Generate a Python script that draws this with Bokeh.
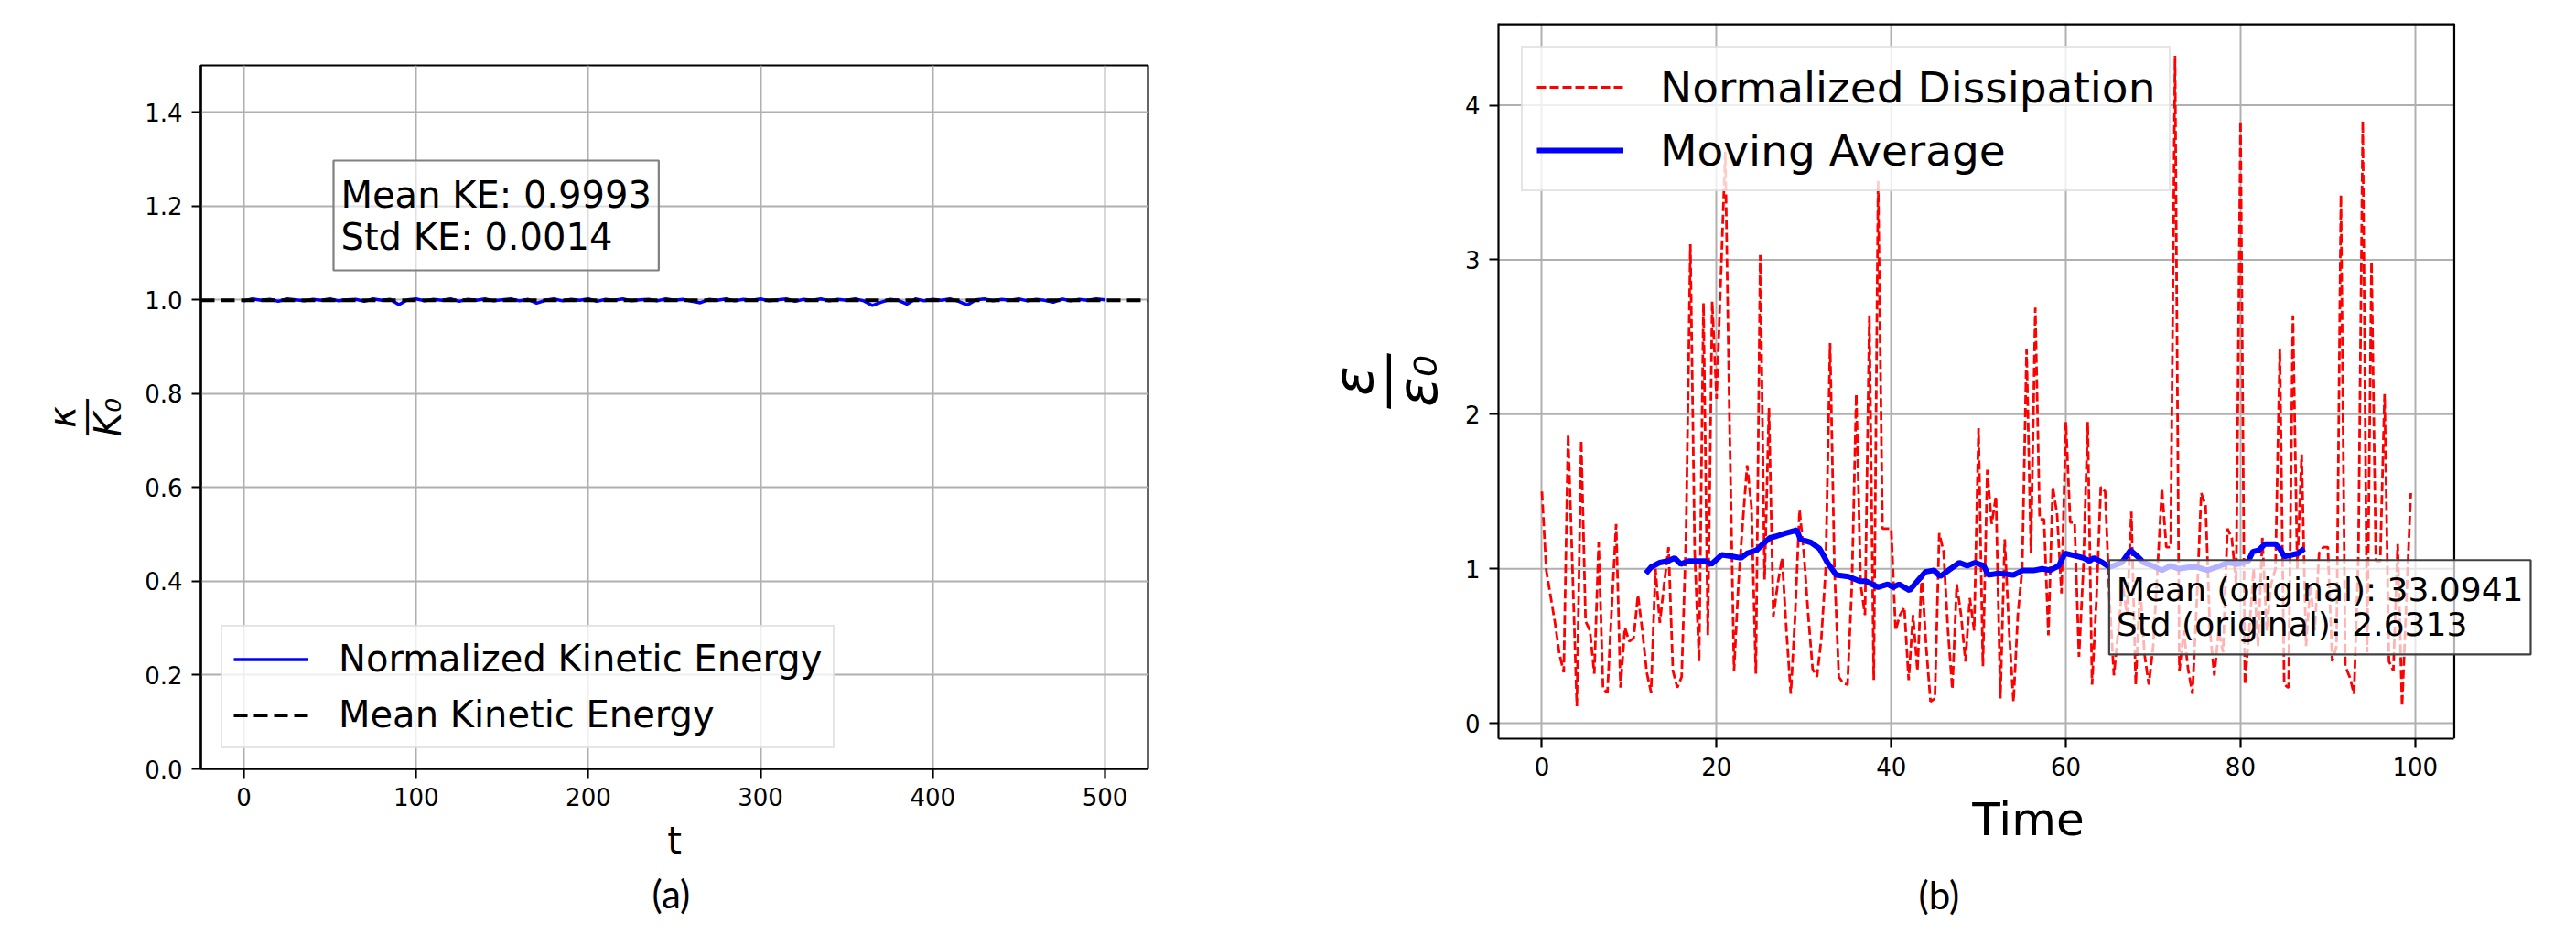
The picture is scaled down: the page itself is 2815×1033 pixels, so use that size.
import numpy as np
from jinja2 import Template
from bokeh.plotting import figure
from bokeh.models import (Range1d, FixedTicker, PrintfTickFormatter, Label, Legend,
                          LegendItem, Title)
from bokeh.embed import file_html
from bokeh.resources import INLINE

# ---------------- data: panel (a) ----------------
ke_t = list(range(0, 501, 5))
ke_vals = [
    0.998, 1.002, 0.999, 1.001, 0.997, 1.002, 1.000, 0.998, 1.001, 0.999,
    1.002, 0.998, 1.000, 1.001, 0.997, 1.002, 0.999, 1.001, 0.990, 1.000,
    1.002, 0.998, 1.001, 0.999, 1.002, 0.997, 1.001, 0.999, 1.002, 0.998,
    1.000, 1.002, 0.998, 1.001, 0.993, 0.999, 1.002, 0.998, 1.001, 0.999,
    1.002, 0.997, 1.001, 0.999, 1.002, 0.998, 1.000, 1.001, 0.998, 1.002,
    0.999, 1.001, 0.997, 0.994, 1.001, 0.999, 1.002, 0.998, 1.001, 0.999,
    1.002, 0.998, 1.000, 1.002, 0.997, 1.001, 0.999, 1.002, 0.998, 1.001,
    0.999, 1.002, 0.998, 0.988, 0.995, 1.001, 0.999, 0.991, 1.002, 0.998,
    1.001, 0.999, 1.002, 0.997, 0.989, 1.000, 1.002, 0.998, 1.001, 0.999,
    1.002, 0.998, 1.001, 0.999, 0.995, 1.002, 0.998, 1.001, 0.999, 1.002,
    1.000]
ke_mean = 0.9993
ke_text = "Mean KE: 0.9993\nStd KE: 0.0014"
a_xticks = [0, 100, 200, 300, 400, 500]
a_yticks = [0.0, 0.2, 0.4, 0.6, 0.8, 1.0, 1.2, 1.4]
A_XLIM = (-25, 525)
A_YLIM = (0.0, 1.5)

# ---------------- data: panel (b) ----------------
diss_t = np.arange(0, 100, 0.5)
diss_vals = [
    1.50, 0.99, 0.82, 0.65, 0.45, 0.33, 1.87, 1.00, 0.11, 1.83,
    0.66, 0.60, 0.32, 1.17, 0.22, 0.20, 0.75, 1.29, 0.23, 0.62,
    0.53, 0.55, 0.83, 0.60, 0.33, 0.20, 1.00, 0.65, 0.90, 1.14,
    0.34, 0.23, 0.30, 1.20, 3.10, 1.10, 0.40, 2.72, 0.57, 2.73,
    2.10, 2.90, 3.70, 1.90, 0.34, 0.90, 1.30, 1.67, 1.40, 0.32,
    3.03, 0.93, 2.04, 0.69, 0.90, 1.07, 0.60, 0.19, 0.70, 1.38,
    1.10, 0.70, 0.35, 0.30, 0.55, 1.00, 2.46, 1.00, 0.30, 0.26,
    0.25, 0.90, 2.13, 0.90, 0.70, 2.64, 0.28, 3.51, 1.26, 1.26,
    1.26, 0.60, 0.70, 0.75, 0.28, 0.70, 0.34, 0.96, 0.50, 0.14,
    0.16, 1.23, 1.11, 0.60, 0.22, 0.90, 0.70, 0.40, 0.81, 0.60,
    1.91, 0.37, 1.64, 1.29, 1.47, 0.16, 1.19, 0.60, 0.14, 0.70,
    1.00, 2.42, 1.10, 2.69, 1.32, 1.32, 0.57, 1.53, 1.35, 0.84,
    1.95, 1.30, 1.30, 0.43, 1.00, 1.95, 0.25, 0.80, 1.53, 1.50,
    0.80, 0.31, 0.60, 0.90, 0.70, 1.37, 0.25, 0.90, 0.45, 0.25,
    0.50, 1.00, 1.52, 1.14, 1.14, 4.32, 0.34, 0.60, 0.35, 0.19,
    0.80, 1.49, 1.41, 0.60, 0.31, 0.60, 0.46, 1.26, 1.20, 0.90,
    3.90, 0.25, 0.60, 1.00, 0.50, 1.20, 0.60, 0.90, 1.00, 2.42,
    0.25, 0.23, 2.64, 1.00, 1.74, 0.50, 0.90, 0.60, 1.10, 1.14,
    1.14, 0.40, 0.50, 3.42, 0.37, 0.30, 0.19, 1.10, 3.90, 0.46,
    2.99, 1.05, 1.05, 2.13, 0.40, 0.34, 1.16, 0.11, 0.80, 1.49]
ma_t = [11.9, 12.5, 13.5, 14.4, 15.2, 15.9, 16.8, 18.7, 19.4, 20.6,
        21.8, 22.8, 23.5, 24.6, 25.3, 26.1, 26.8, 27.9, 29.2, 29.6,
        30.8, 31.8, 32.7, 33.7, 35.1, 36.4, 37.1, 38.5, 39.6, 40.2,
        40.9, 42.1, 43.0, 43.9, 44.9, 45.6, 46.8, 47.8, 48.7, 49.6,
        50.6, 51.1, 52.3, 54.0, 55.1, 56.4, 57.3, 58.2, 59.2, 59.9,
        61.3, 62.0, 62.7, 63.2, 64.2, 65.0, 66.4, 67.4, 68.2, 68.9,
        69.9, 71.0, 72.0, 72.9, 74.1, 75.1, 76.2, 77.2, 78.6, 79.7,
        80.9, 81.4, 82.1, 82.8, 84.0, 84.5, 85.0, 85.9, 86.6, 87.3]
ma_vals = [0.97, 1.01, 1.04, 1.05, 1.07, 1.03, 1.05, 1.05, 1.03, 1.09,
           1.08, 1.07, 1.10, 1.12, 1.16, 1.20, 1.21, 1.23, 1.25, 1.19,
           1.17, 1.13, 1.04, 0.96, 0.95, 0.92, 0.92, 0.88, 0.90, 0.88,
           0.90, 0.86, 0.92, 0.98, 0.99, 0.95, 1.00, 1.04, 1.02, 1.04,
           1.02, 0.96, 0.97, 0.96, 0.99, 0.99, 1.00, 0.99, 1.02, 1.10,
           1.08, 1.07, 1.05, 1.07, 1.04, 1.01, 1.04, 1.12, 1.08, 1.04,
           1.02, 0.99, 1.02, 1.00, 1.01, 1.01, 0.99, 1.01, 1.04, 1.03,
           1.05, 1.11, 1.12, 1.16, 1.16, 1.13, 1.08, 1.09, 1.10, 1.13]
diss_text = "Mean (original): 33.0941\nStd (original): 2.6313"
b_xticks = [0, 20, 40, 60, 80, 100]
b_yticks = [0, 1, 2, 3, 4]
B_XLIM = (-4.975, 104.475)
B_YLIM = (-0.10, 4.53)

FONT = "DejaVu Sans"
CAP_FONT = "Lato"
TICK_SIZE = "26px"


def style(p, xt, yt):
    p.xaxis.ticker = FixedTicker(ticks=xt)
    p.yaxis.ticker = FixedTicker(ticks=yt)
    for ax in (p.xaxis[0], p.yaxis[0]):
        ax.major_label_text_font = FONT
        ax.major_label_text_font_size = TICK_SIZE
        ax.major_label_text_color = "black"
        ax.major_tick_out = 10
        ax.major_tick_in = 0
        ax.minor_tick_out = 0
        ax.minor_tick_in = 0
        ax.major_tick_line_width = 2.2
        ax.major_tick_line_color = "black"
        ax.axis_line_width = 2.2
        ax.axis_line_color = "black"
        ax.major_label_standoff = 10
        ax.axis_label_text_font = FONT
        ax.axis_label_text_font_style = "normal"
        ax.axis_label_text_color = "black"
    p.grid.grid_line_color = "#b0b0b0"
    p.grid.grid_line_width = 2
    p.outline_line_color = "black"
    p.outline_line_width = 2.2
    p.outline_line_alpha = 1.0
    p.background_fill_color = "white"
    p.border_fill_color = "white"


# ---------------- panel (a) ----------------
W_A, H_ALL = 1440, 1025
FA_L, FA_T, FA_W, FA_H = 219, 71, 1035, 769
pa = figure(width=W_A, height=H_ALL, output_backend="svg", toolbar_location=None,
            x_range=Range1d(*A_XLIM), y_range=Range1d(*A_YLIM),
            min_border_left=FA_L, min_border_top=FA_T,
            min_border_right=W_A - FA_L - FA_W, min_border_bottom=H_ALL - FA_T - FA_H)
style(pa, a_xticks, a_yticks)
pa.yaxis.formatter = PrintfTickFormatter(format="%.1f")
pa.xaxis.axis_label = "t"
pa.xaxis.axis_label_text_font_size = "40px"
pa.xaxis.axis_label_standoff = 12
pa.yaxis.axis_label = "κ\n―\nK₀"
pa.yaxis.axis_label_text_font_size = "40px"
pa.yaxis.axis_label_text_font_style = "italic"
pa.yaxis.axis_label_text_line_height = 0.55
pa.yaxis.axis_label_standoff = 14


def ax_a(px):  # page x -> data x (panel a)
    return A_XLIM[0] + (px - FA_L) / FA_W * (A_XLIM[1] - A_XLIM[0])


def ay_a(py):
    return A_YLIM[1] - (py - FA_T) / FA_H * (A_YLIM[1] - A_YLIM[0])


r_ke = pa.line(ke_t, ke_vals, line_color="blue", line_width=3.5)
r_mean = pa.line(list(A_XLIM), [ke_mean, ke_mean], line_color="black",
                 line_width=4, line_dash="15 7")

leg_a = Legend(items=[LegendItem(label="Normalized Kinetic Energy", renderers=[r_ke]),
                      LegendItem(label="Mean Kinetic Energy", renderers=[r_mean])],
               location="bottom_left", margin=22, padding=12, spacing=15,
               glyph_width=82, glyph_height=45, label_standoff=33,
               label_text_font=FONT, label_text_font_size="40px", label_text_color="black",
               border_line_color="#cccccc", border_line_width=2,
               background_fill_color="white", background_fill_alpha=0.8)
pa.add_layout(leg_a)

pa.add_layout(Label(x=ax_a(364), y=ay_a(175), text=ke_text, text_font=FONT,
                    text_font_size="40px", text_color="black", text_line_height=1.0,
                    text_align="left", text_baseline="top",
                    background_fill_color="white", background_fill_alpha=0.6,
                    border_line_color="#808080", border_line_width=2.2, padding=(8, 14)))

pa.add_layout(Title(text="(a)", align="left", offset=493, standoff=10,
                    text_font=CAP_FONT, text_font_size="42px", text_font_style="normal",
                    text_color="black"), "below")

# ---------------- panel (b) ----------------
W_B = 1370
FB_L, FB_T, FB_W, FB_H = 182, 25, 1058, 789
EXT_PX = 115  # extra frame room right of the axes box (for the stats box)
XB_END = B_XLIM[1] + EXT_PX * (B_XLIM[1] - B_XLIM[0]) / FB_W
pb = figure(width=W_B, height=H_ALL, output_backend="svg", toolbar_location=None,
            x_range=Range1d(B_XLIM[0], XB_END), y_range=Range1d(*B_YLIM),
            min_border_left=FB_L, min_border_top=FB_T,
            min_border_right=W_B - FB_L - FB_W - EXT_PX,
            min_border_bottom=H_ALL - FB_T - FB_H)
style(pb, b_xticks, b_yticks)
pb.outline_line_color = None
pb.ygrid.visible = False
pb.xaxis.bounds = B_XLIM
pb.xaxis.axis_label = "Time"
pb.xaxis.axis_label_text_font_size = "50px"
pb.xaxis.axis_label_standoff = 16
pb.yaxis.axis_label = "ε\n―\nε₀"
pb.yaxis.axis_label_text_font_size = "60px"
pb.yaxis.axis_label_text_font_style = "italic"
pb.yaxis.axis_label_text_line_height = 0.5
pb.yaxis.axis_label_standoff = 14

X0B = W_A


def ax_b(px):
    return B_XLIM[0] + (px - X0B - FB_L) / FB_W * (B_XLIM[1] - B_XLIM[0])


def ay_b(py):
    return B_YLIM[1] - (py - FB_T) / FB_H * (B_YLIM[1] - B_YLIM[0])


# horizontal grid lines limited to the axes box
pb.segment(x0=[B_XLIM[0]] * len(b_yticks), y0=b_yticks,
           x1=[B_XLIM[1]] * len(b_yticks), y1=b_yticks,
           line_color="#b0b0b0", line_width=2)
# top and right spines of the axes box
pb.line(list(B_XLIM), [B_YLIM[1], B_YLIM[1]], line_color="black", line_width=4.4)
pb.line([B_XLIM[1], B_XLIM[1]], list(B_YLIM), line_color="black", line_width=2.2)

r_d = pb.line(diss_t, diss_vals, line_color="red", line_width=2.8, line_dash="10 4")
r_ma = pb.line(ma_t, ma_vals, line_color="blue", line_width=6)

leg_b = Legend(items=[LegendItem(label="Normalized Dissipation", renderers=[r_d]),
                      LegendItem(label="Moving Average", renderers=[r_ma])],
               location="top_left", margin=25, padding=15, spacing=13,
               glyph_width=95, glyph_height=56, label_standoff=40,
               label_text_font=FONT, label_text_font_size="47px", label_text_color="black",
               border_line_color="#cccccc", border_line_width=2,
               background_fill_color="white", background_fill_alpha=0.8)
pb.add_layout(leg_b)

pb.add_layout(Label(x=ax_b(2298), y=ay_b(617), text=diss_text, text_font=FONT,
                    text_font_size="36px", text_color="black", text_line_height=0.93,
                    text_align="left", text_baseline="top",
                    background_fill_color="white", background_fill_alpha=0.7,
                    border_line_color="#404040", border_line_width=2.2, padding=(8, 12)))

pb.add_layout(Title(text="(b)", align="left", offset=459, standoff=46,
                    text_font=CAP_FONT, text_font_size="42px", text_font_style="normal",
                    text_color="black"), "below")

PAGE = Template("""{% extends base %}
{% block contents %}<div style="display:flex;flex-direction:row;align-items:flex-start;">{{ super() }}</div>{% endblock %}""")

open("out.html", "w").write(file_html([pa, pb], INLINE, template=PAGE))
